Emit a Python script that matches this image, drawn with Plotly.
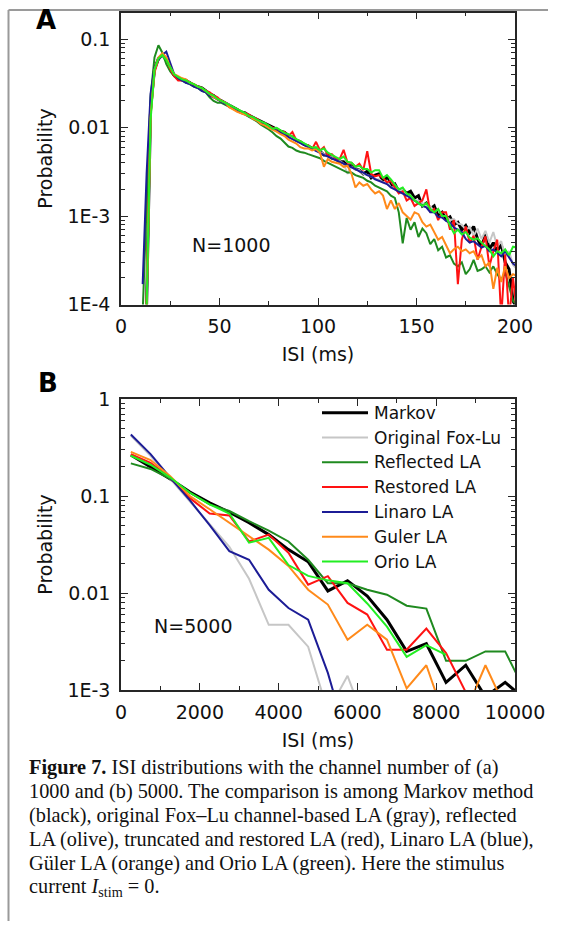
import plotly.graph_objects as go

# The figure is drawn at the window's top-left corner; it is kept a little
# smaller than the 564x937 window so that the page never overflows.  All
# positions below are given in window pixels and converted with X()/Y().
W, H = 548, 921


def X(px):
    return px / W


def Y(py):
    return 1 - py / H


# ---------------- Panel A data (N=1000), ISI bin centres in ms ----------------
x_a = [11, 13, 15, 17, 19, 21, 23, 25, 27, 29,
       31, 33, 35, 37, 39, 41, 43, 45, 47, 49,
       51, 53, 55, 57, 59, 61, 63, 65, 67, 69,
       71, 73, 75, 77, 79, 81, 83, 85, 87, 89,
       91, 93, 95, 97, 99, 101, 103, 105, 107, 109,
       111, 113, 115, 117, 119, 121, 123, 125, 127, 129,
       131, 133, 135, 137, 139, 141, 143, 145, 147, 149,
       151, 153, 155, 157, 159, 161, 163, 165, 167, 169,
       171, 173, 175, 177, 179, 181, 183, 185, 187, 189,
       191, 193, 195, 197, 199, 201]

markov_a = [None, 0.0001, 0.016, 0.046, 0.060, 0.066, 0.058, 0.046, 0.039, 0.036,
            0.035, 0.034, 0.032, 0.030, 0.029, 0.028, 0.026, 0.024, 0.023, 0.021,
            0.020, 0.019, 0.018, 0.017, 0.016, 0.015, 0.0146, 0.0137, 0.013, 0.0123,
            0.0117, 0.0110, 0.0106, 0.0099, 0.0095, 0.0091, 0.0088, 0.0081, 0.0078, 0.0072,
            0.0069, 0.0064, 0.0062, 0.0058, 0.0056, 0.0054, 0.0049, 0.0049, 0.0045, 0.0044,
            0.0041, 0.0041, 0.0037, 0.0037, 0.0034, 0.0033, 0.0030, 0.0032, 0.0027, 0.0029,
            0.0030, 0.0025, 0.0027, 0.0022, 0.0023, 0.0019, 0.0020, 0.0018, 0.0019, 0.0016,
            0.0017, 0.0013, 0.0014, 0.0012, 0.0013, 0.0010, 0.0011, 0.00092, 0.00098, 0.00080,
            0.00085, 0.00070, 0.00078, 0.00065, 0.00076, 0.00055, 0.00045, 0.00062, 0.00042, 0.00050,
            0.00040, 0.00048, 0.00030, 0.00025, 0.00011, 0.00009]

foxlu_a = [None, 0.0001, 0.015, 0.045, 0.060, 0.065, 0.057, 0.046, 0.039, 0.036,
           0.035, 0.033, 0.032, 0.030, 0.029, 0.027, 0.026, 0.025, 0.022, 0.021,
           0.020, 0.019, 0.018, 0.0168, 0.016, 0.0152, 0.0143, 0.0138, 0.0129, 0.0122,
           0.0115, 0.0111, 0.0103, 0.0098, 0.0090, 0.0089, 0.0084, 0.0079, 0.0075, 0.0071,
           0.0067, 0.0066, 0.0061, 0.0058, 0.0056, 0.0053, 0.0050, 0.0047, 0.0046, 0.0043,
           0.0042, 0.0039, 0.0030, 0.0036, 0.0034, 0.0033, 0.0030, 0.0029, 0.0028, 0.0026,
           0.0026, 0.0024, 0.0025, 0.0021, 0.0021, 0.0019, 0.0020, 0.0017, 0.0017, 0.0015,
           0.0015, 0.0014, 0.0013, 0.0013, 0.0011, 0.0012, 0.0010, 0.0010, 0.00090, 0.00092,
           0.00082, 0.00080, 0.00070, 0.00075, 0.00060, 0.00072, 0.00055, 0.00068, 0.00050, 0.00066,
           0.00045, 0.00052, 0.00035, 0.00040, 0.00028, 0.00025]

reflected_a = [0.00008, 0.0015, 0.022, 0.062, 0.085, 0.070, 0.052, 0.043, 0.038, 0.035,
               0.034, 0.032, 0.031, 0.029, 0.028, 0.026, 0.025, 0.022, 0.020, 0.019,
               0.019, 0.018, 0.017, 0.0163, 0.0155, 0.0146, 0.0140, 0.0132, 0.0125, 0.0117,
               0.0108, 0.0102, 0.0095, 0.0088, 0.0080, 0.0075, 0.0068, 0.0061, 0.0059, 0.0055,
               0.0053, 0.0052, 0.0050, 0.0048, 0.0047, 0.0045, 0.0042, 0.0040, 0.0038, 0.0036,
               0.0034, 0.0033, 0.0031, 0.0031, 0.0029, 0.0028, 0.0027, 0.0025, 0.0024, 0.0022,
               0.0021, 0.0020, 0.0019, 0.0017, 0.0016, 0.0011, 0.00049, 0.00095, 0.00070, 0.00085,
               0.00058, 0.00072, 0.00064, 0.00048, 0.00055, 0.00041, 0.00045, 0.00034, 0.00036, 0.00029,
               0.00027, 0.00030, 0.00022, 0.00025, 0.00032, 0.00024, 0.00025, 0.00027, 0.00023, 0.00027,
               0.00022, 0.00019, 0.00023, 0.00016, 0.00011, 0.00010]

restored_a = [None, 0.0001, 0.014, 0.042, 0.058, 0.068, 0.060, 0.046, 0.038, 0.034,
              0.034, 0.033, 0.032, 0.031, 0.029, 0.027, 0.026, 0.025, 0.023, 0.022,
              0.020, 0.019, 0.017, 0.017, 0.016, 0.015, 0.0146, 0.0140, 0.0130, 0.0125,
              0.0115, 0.0112, 0.0104, 0.0100, 0.0093, 0.0090, 0.0089, 0.0080, 0.0089, 0.0072,
              0.0070, 0.0064, 0.0063, 0.0057, 0.0069, 0.0055, 0.0060, 0.0048, 0.0050, 0.0045,
              0.0044, 0.0056, 0.0040, 0.0040, 0.0036, 0.0039, 0.0033, 0.0054, 0.0030, 0.0028,
              0.0029, 0.0027, 0.0024, 0.0025, 0.0021, 0.0018, 0.0019, 0.0015, 0.0016, 0.0013,
              0.0014, 0.0015, 0.0020, 0.0011, 0.0012, 0.00090, 0.0011, 0.0011, 0.00070, 0.00090,
              0.00017, 0.00054, 0.00076, 0.00050, 0.00060, 0.00032, 0.00045, 0.00059, 0.00027, 0.00040,
              0.00054, 0.00007, 0.00037, 0.00007, 0.00020, 0.00008]

linaro_a = [0.00017, 0.003, 0.024, 0.048, 0.058, 0.066, 0.072, 0.055, 0.040, 0.036,
            0.034, 0.032, 0.031, 0.029, 0.028, 0.026, 0.025, 0.023, 0.022, 0.021,
            0.0195, 0.0185, 0.0175, 0.0165, 0.0157, 0.0148, 0.0141, 0.0134, 0.0127, 0.0120,
            0.0114, 0.0108, 0.0102, 0.0097, 0.0092, 0.0087, 0.0083, 0.0078, 0.0074, 0.0070,
            0.0067, 0.0063, 0.0060, 0.0057, 0.0054, 0.0052, 0.0049, 0.0047, 0.0045, 0.0043,
            0.0041, 0.0039, 0.0037, 0.0036, 0.0034, 0.0032, 0.0031, 0.0029, 0.0028, 0.0026,
            0.0025, 0.0024, 0.0023, 0.0021, 0.0020, 0.0019, 0.0018, 0.0017, 0.0016, 0.0015,
            0.0014, 0.0013, 0.00125, 0.0011, 0.0011, 0.00098, 0.00096, 0.00088, 0.00084, 0.00074,
            0.00070, 0.00066, 0.00055, 0.00050, 0.00052, 0.00048, 0.00044, 0.00046, 0.00040, 0.00042,
            0.00038, 0.00035, 0.00040, 0.00034, 0.00029, 0.00027]

guler_a = [None, 0.0001, 0.013, 0.045, 0.062, 0.069, 0.062, 0.048, 0.040, 0.038,
           0.036, 0.035, 0.032, 0.031, 0.029, 0.028, 0.026, 0.024, 0.022, 0.021,
           0.020, 0.019, 0.017, 0.016, 0.015, 0.0145, 0.014, 0.0135, 0.0125, 0.0120,
           0.0110, 0.0106, 0.0099, 0.0095, 0.0090, 0.0084, 0.0080, 0.0073, 0.0070, 0.0066,
           0.0060, 0.0058, 0.0058, 0.0055, 0.0057, 0.0052, 0.0036, 0.0044, 0.0041, 0.0040,
           0.0039, 0.0036, 0.0037, 0.0030, 0.0021, 0.0024, 0.0022, 0.0023, 0.0020, 0.0018,
           0.0019, 0.0017, 0.0012, 0.0015, 0.0012, 0.0014, 0.0011, 0.0010, 0.00091, 0.0011,
           0.00105, 0.00085, 0.00076, 0.00080, 0.00065, 0.00054, 0.00058, 0.00046, 0.00038, 0.00042,
           0.00045, 0.00040, 0.00042, 0.00038, 0.00040, 0.00033, 0.00036, 0.00027, 0.00030, 0.00015,
           0.00026, 0.00018, 0.00027, 0.00020, 0.00022, 0.00021]

orio_a = [None, 0.00009, 0.012, 0.045, 0.060, 0.066, 0.058, 0.048, 0.040, 0.037,
          0.035, 0.034, 0.032, 0.031, 0.029, 0.028, 0.026, 0.024, 0.023, 0.021,
          0.020, 0.019, 0.018, 0.017, 0.0163, 0.0155, 0.0146, 0.0135, 0.0131, 0.0123,
          0.0118, 0.0112, 0.0105, 0.0097, 0.0099, 0.0092, 0.0087, 0.0084, 0.0078, 0.0074,
          0.0070, 0.0066, 0.0063, 0.0059, 0.0060, 0.0055, 0.0058, 0.0052, 0.0049, 0.0046,
          0.0044, 0.0047, 0.0041, 0.0040, 0.0036, 0.0037, 0.0034, 0.0034, 0.0031, 0.0033,
          0.0033, 0.0027, 0.0029, 0.0026, 0.0023, 0.0020, 0.0021, 0.0018, 0.0017, 0.0015,
          0.0014, 0.0013, 0.0014, 0.0012, 0.0011, 0.0012, 0.0010, 0.00100, 0.00078, 0.00064,
          0.00070, 0.00062, 0.00066, 0.00057, 0.00054, 0.00056, 0.00050, 0.00046, 0.00042, 0.00035,
          0.00040, 0.00038, 0.00042, 0.00036, 0.00045, 0.00044]

# ---------------- Panel B data (N=5000) ----------------
x_b = [250, 750, 1250, 1750, 2250, 2750, 3250, 3750, 4250, 4750,
       5250, 5750, 6250, 6750, 7250, 7750, 8250, 8750, 9250, 9750, 10250]

markov_b = [0.265, 0.20, 0.15, 0.11, 0.085, 0.068, 0.053, 0.040, 0.028, 0.021,
            0.0105, 0.0134, 0.0093, 0.0053, 0.0025, 0.0030, 0.0012, 0.0018, 0.00085, 0.0012, 0.0008]
foxlu_b = [0.42, 0.26, 0.15, 0.088, 0.052, 0.030, 0.014, 0.0047, 0.0047, 0.0028,
           0.0006, 0.0014, 0.0004]
reflected_b = [0.217, 0.19, 0.15, 0.108, 0.082, 0.070, 0.055, 0.044, 0.034, 0.022,
               0.0126, 0.0126, 0.0108, 0.0096, 0.0074, 0.0069, 0.0020, 0.0020, 0.0025, 0.0025, 0.00098]
restored_b = [0.27, 0.22, 0.155, 0.095, 0.066, 0.063, 0.034, 0.040, 0.026, 0.0122,
              0.0149, 0.0079, 0.0060, 0.0026, 0.0026, 0.0043, 0.0024, 0.00095]
linaro_b = [0.43, 0.27, 0.155, 0.09, 0.050, 0.027, 0.022, 0.0108, 0.0070, 0.0053,
            0.0015, 0.0003]
guler_b = [0.285, 0.235, 0.16, 0.10, 0.073, 0.053, 0.039, 0.028, 0.019, 0.0108,
           0.0076, 0.0033, 0.0047, 0.0033, 0.00104, 0.0018, 0.00047, 0.0006, 0.0018, 0.00066]
orio_b = [0.26, 0.21, 0.155, 0.108, 0.082, 0.066, 0.033, 0.037, 0.0194, 0.015,
          0.0135, 0.0126, 0.0078, 0.0045, 0.0022, 0.0029, 0.0023]

series_names = ["Markov", "Original Fox-Lu", "Reflected LA", "Restored LA",
                "Linaro LA", "Guler LA", "Orio LA"]
series_colors = ["#000000", "#c6c6c6", "#1f8a1f", "#ff1212", "#1c1c96", "#ff8a1a", "#22ee22"]
series_widths = [3, 2, 2, 2, 2, 2, 2]

ticks_a_x = [0, 50, 100, 150, 200]
minor_a_x = [25, 75, 125, 175]
ticks_a_y = [1e-4, 1e-3, 1e-2, 1e-1]
labels_a_y = ["1E-4", "1E-3", "0.01", "0.1"]
ticks_b_x = [0, 2000, 4000, 6000, 8000, 10000]
labels_b_x = ["0", "2000", "4000", "6000", "8000", "10000"]
minor_b_x = [1000, 3000, 5000, 7000, 9000]
ticks_b_y = [1e-3, 1e-2, 1e-1, 1]
labels_b_y = ["1E-3", "0.01", "0.1", "1"]

minor_log = [m * 10.0 ** e for e in range(-4, 1) for m in range(2, 10)]

fig = go.Figure()
data_a = [markov_a, foxlu_a, reflected_a, restored_a, linaro_a, guler_a, orio_a]
data_b = [markov_b, foxlu_b, reflected_b, restored_b, linaro_b, guler_b, orio_b]
for name, ya, col, lw in zip(series_names, data_a, series_colors, series_widths):
    fig.add_trace(go.Scatter(x=x_a[:len(ya)], y=ya, mode="lines", name=name,
                             line=dict(color=col, width=lw), xaxis="x", yaxis="y",
                             showlegend=False))
for name, yb, col, lw in zip(series_names, data_b, series_colors, series_widths):
    fig.add_trace(go.Scatter(x=x_b[:len(yb)], y=yb, mode="lines", name=name,
                             line=dict(color=col, width=lw), xaxis="x2", yaxis="y2",
                             showlegend=False))

FONT = "DejaVu Sans"
AX = "#262626"
tickfont = dict(family=FONT, size=19, color="#111111")
titlefont = dict(family=FONT, size=19, color="#111111")


def axis(**kw):
    d = dict(showline=True, linecolor=AX, linewidth=1.5, mirror="ticks",
             ticks="inside", ticklen=7, tickwidth=1.3, tickcolor=AX,
             showgrid=False, zeroline=False, automargin=False, tickfont=tickfont)
    d.update(kw)
    return d


xdom = [X(121), X(515)]
fig.update_layout(
    width=W, height=H, autosize=False,
    margin=dict(l=0, r=0, t=0, b=0, pad=0),
    paper_bgcolor="white", plot_bgcolor="white",
    xaxis=axis(domain=xdom, anchor="y", range=[0, 200], tickmode="array",
               tickvals=ticks_a_x, ticklabelstandoff=4,
               minor=dict(ticks="inside", ticklen=4, tickcolor=AX, tickmode="array",
                          tickvals=minor_a_x, showgrid=False),
               title=dict(text="ISI (ms)", font=titlefont, standoff=12)),
    yaxis=axis(domain=[Y(304.5), Y(12.5)], anchor="x", type="log",
               range=[-4, -0.70], tickmode="array", tickvals=ticks_a_y,
               ticktext=labels_a_y, ticklabelstandoff=5,
               minor=dict(ticks="inside", ticklen=4, tickcolor=AX, tickmode="array",
                          tickvals=minor_log, showgrid=False),
               title=dict(text="Probability", font=titlefont, standoff=10)),
    xaxis2=axis(domain=xdom, anchor="y2", range=[0, 10000], tickmode="array",
                tickvals=ticks_b_x, ticktext=labels_b_x, ticklabelstandoff=4,
                minor=dict(ticks="inside", ticklen=4, tickcolor=AX, tickmode="array",
                           tickvals=minor_b_x, showgrid=False),
                title=dict(text="ISI (ms)", font=titlefont, standoff=12)),
    yaxis2=axis(domain=[Y(690), Y(399)], anchor="x2", type="log",
                range=[-3, 0], tickmode="array", tickvals=ticks_b_y,
                ticktext=labels_b_y, ticklabelstandoff=5,
                minor=dict(ticks="inside", ticklen=4, tickcolor=AX, tickmode="array",
                           tickvals=minor_log, showgrid=False),
                title=dict(text="Probability", font=titlefont, standoff=10)),
)

shapes = [
    dict(type="line", xref="paper", yref="paper", x0=X(8.5), x1=1.0,
         y0=Y(10), y1=Y(10), line=dict(color="#9a9a9a", width=2)),
    dict(type="line", xref="paper", yref="paper", x0=X(8.5), x1=X(8.5),
         y0=Y(10), y1=0, line=dict(color="#9a9a9a", width=2)),
]
annotations = [
    dict(text="<b>A</b>", xref="paper", yref="paper", x=X(34), y=Y(20),
         xanchor="left", yanchor="middle", showarrow=False,
         font=dict(family=FONT, size=26, color="#000")),
    dict(text="<b>B</b>", xref="paper", yref="paper", x=X(36), y=Y(383),
         xanchor="left", yanchor="middle", showarrow=False,
         font=dict(family=FONT, size=26, color="#000")),
    dict(text="N=1000", xref="paper", yref="paper", x=X(231), y=Y(245),
         xanchor="center", yanchor="middle", showarrow=False,
         font=dict(family=FONT, size=19, color="#111")),
    dict(text="N=5000", xref="paper", yref="paper", x=X(193), y=Y(626),
         xanchor="center", yanchor="middle", showarrow=False,
         font=dict(family=FONT, size=19, color="#111")),
]

# legend drawn manually (panel B)
for j, (name, col, lw) in enumerate(zip(series_names, series_colors, series_widths)):
    yy = Y(412.7 + 24.8 * j)
    shapes.append(dict(type="line", xref="paper", yref="paper", x0=X(322), x1=X(368),
                       y0=yy, y1=yy, line=dict(color=col, width=lw)))
    annotations.append(dict(text=name, xref="paper", yref="paper", x=X(372), y=yy,
                            xanchor="left", yanchor="middle", showarrow=False,
                            font=dict(family=FONT, size=17, color="#111")))

caption = [
    "<b>Figure 7.</b> ISI distributions with the channel number of (a)",
    "1000 and (b) 5000. The comparison is among Markov method",
    "(black), original Fox–Lu channel-based LA (gray), reflected",
    "LA (olive), truncated and restored LA (red), Linaro LA (blue),",
    "Güler LA (orange) and Orio LA (green). Here the stimulus",
    "current <i>I</i><sub>stim</sub> = 0.",
]
for k, line in enumerate(caption):
    annotations.append(dict(text=line, xref="paper", yref="paper", x=X(27),
                            y=Y(767 + 24 * k), xanchor="left", yanchor="middle",
                            showarrow=False,
                            font=dict(family="Liberation Serif", size=20.3, color="#111")))

fig.update_layout(shapes=shapes, annotations=annotations)
fig.write_html("out.html")
